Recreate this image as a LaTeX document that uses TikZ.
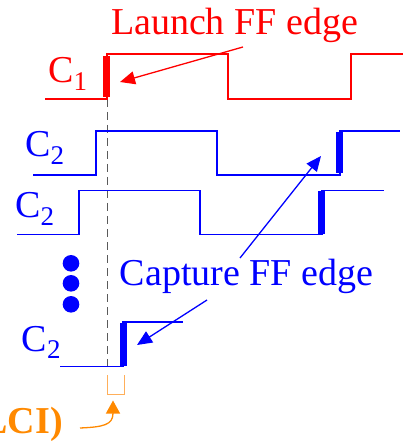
\documentclass[tikz,border=0pt]{standalone}
\usepackage{fontspec}
\setmainfont{Liberation Serif}
\usetikzlibrary{arrows.meta}
\definecolor{sigred}{RGB}{255,0,0}
\definecolor{sigblue}{RGB}{0,0,255}
\definecolor{lciorange}{RGB}{255,137,0}
\definecolor{lcilight}{RGB}{255,175,90}
\definecolor{guidegray}{RGB}{90,90,90}
\newcommand\sublbl[1]{\raisebox{-7.5pt}{\fontsize{27}{27}\selectfont #1}}
\begin{document}
\begin{tikzpicture}[x=1pt,y=-1pt,
  sig/.style={line width=1.5pt, line join=miter},
  bar/.style={line width=7.5pt},
  lbl/.style={font=\fontsize{38}{38}\selectfont, inner sep=0pt, anchor=base west},
  ptr/.style={line width=1.3pt, -{Triangle[length=15pt,width=13pt]}},
  guide/.style={guidegray, line width=1pt, dash pattern=on 8pt off 5pt},
  dotmark/.style={fill=sigblue, draw=none}
]
\useasboundingbox (0,0) rectangle (403,443);

% guide line
\draw[guide] (107,99) -- (107,367);

% C1 waveform
\draw[sig,sigred] (45,99) -- (107,99) -- (107,54) -- (228,54) -- (228,99) -- (351,99) -- (351,54) -- (403,54);
\draw[bar,sigred] (106.5,56) -- (106.5,97.5);

% C2 (first)
\draw[sig,sigblue] (33,175) -- (96,175) -- (96,131) -- (217,131) -- (217,175) -- (340,175) -- (340,131) -- (400,131);
\draw[bar,sigblue] (339.5,132) -- (339.5,173.5);

% C2 (second)
\draw[sig,sigblue] (17,234.5) -- (79,234.5) -- (79,190.5) -- (200,190.5) -- (200,234.5) -- (322,234.5) -- (322,190.5) -- (384,190.5);
\draw[bar,sigblue] (321.7,191.5) -- (321.7,233.5);

% C2 (last)
\draw[sig,sigblue] (60,366.5) -- (123,366.5) -- (123,322) -- (183,322);
\draw[bar,sigblue] (123.5,323) -- (123.5,365.5);

% dots
\fill[dotmark] (71,263.3) circle (8.3);
\fill[dotmark] (71,283.3) circle (8.3);
\fill[dotmark] (71,304.3) circle (8.3);

% LCI bracket
\draw[lcilight, line width=1pt] (107,375) -- (107,394) -- (124,394) -- (124,375);

% labels
\node[lbl, text=sigred, anchor=base] (launch) at (234.5,35) {Launch FF edge};
\node[lbl, text=sigblue, anchor=base] (capture) at (246.5,285) {Capture FF edge};
\node[lbl, text=sigred] (c1) at (48,83) {C\sublbl{1}};
\node[lbl, text=sigblue] (c2a) at (25,157) {C\sublbl{2}};
\node[lbl, text=sigblue] (c2b) at (15,218) {C\sublbl{2}};
\node[lbl, text=sigblue] (c2c) at (21.5,351) {C\sublbl{2}};
\node[lbl, text=lciorange, font=\fontsize{38}{38}\selectfont\bfseries, anchor=base east] (lci) at (63,433) {LCI)};

% arrow end points
\coordinate (lfrom) at (243,47);
\coordinate (lto) at (120,82);
\coordinate (cfromA) at (240,258);
\coordinate (ctoA) at (321,156);
\coordinate (cfromB) at (207,300);
\coordinate (ctoB) at (137,345);
\coordinate (ofrom) at (80,428);
\coordinate (oto) at (113,400.5);

\draw[ptr,sigred] (lfrom) -- (lto);
\draw[ptr,sigblue] (cfromA) -- (ctoA);
\draw[ptr,sigblue] (cfromB) -- (ctoB);
\draw[lciorange, line width=1.3pt, -{Triangle[length=13pt,width=14pt]}] (ofrom) .. controls (103,427) and (113,425) .. (oto);
\end{tikzpicture}
\end{document}
